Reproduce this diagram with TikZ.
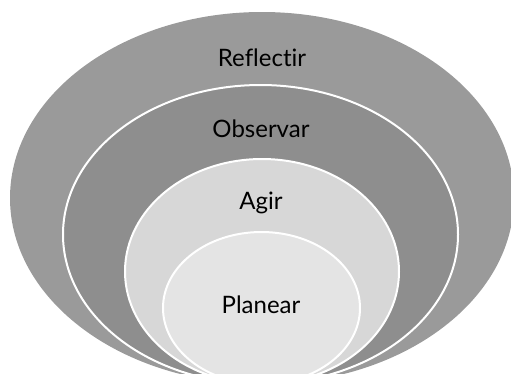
\documentclass[tikz,border=0pt]{standalone}
\usepackage{fontspec}
\setmainfont{Lato}[Ligatures={NoCommon}]
\definecolor{ringA}{RGB}{154,154,154}
\definecolor{ringB}{RGB}{142,142,142}
\definecolor{ringC}{RGB}{215,215,215}
\definecolor{ringD}{RGB}{228,228,228}
\tikzset{
  ring/.style={draw=white, line width=2pt},
  label/.style={anchor=base, font=\fontsize{24}{24}\selectfont, text=black, inner sep=0pt}
}
\begin{document}
\begin{tikzpicture}[x=1pt,y=-1pt]
  \useasboundingbox (0,0) rectangle (511,373);
  \clip (0,0) rectangle (511,373);
  % nested ellipses sharing a common lowest point
  \fill[ringA] (262,198) ellipse [x radius=252, y radius=186];
  \filldraw[ring, fill=ringB] (260.5,234.5) ellipse [x radius=197.5, y radius=149.5];
  \filldraw[ring, fill=ringC] (262,271.5) ellipse [x radius=137, y radius=112.5];
  \filldraw[ring, fill=ringD] (261.5,308) ellipse [x radius=98.5, y radius=76];
  % labels
  \node[label] (reflectir) at (262,66) {Reflectir};
  \node[label] (observar) at (261,137) {Observar};
  \node[label] (agir) at (261,209) {Agir};
  \node[label] (planear) at (261,313) {Planear};
\end{tikzpicture}
\end{document}
